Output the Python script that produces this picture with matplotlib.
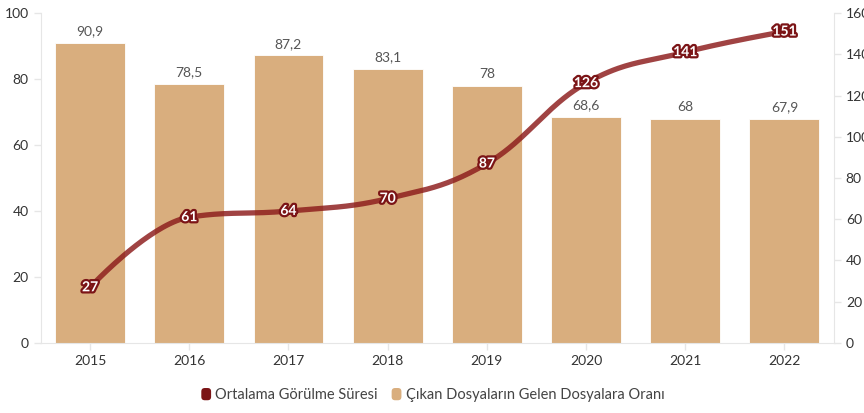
import numpy as np
import matplotlib
matplotlib.use("Agg")
import matplotlib.pyplot as plt
import matplotlib.patheffects as pe
from matplotlib.patches import FancyBboxPatch
from matplotlib.legend_handler import HandlerPatch

plt.rcParams['font.family'] = ['Lato', 'DejaVu Sans']

years = ['2015', '2016', '2017', '2018', '2019', '2020', '2021', '2022']
ratio = [90.9, 78.5, 87.2, 83.1, 78, 68.6, 68, 67.9]
ratio_labels = ['90,9', '78,5', '87,2', '83,1', '78', '68,6', '68', '67,9']
duration = [27, 61, 64, 70, 87, 126, 141, 151]

bar_color = '#d9ae7e'
line_color = '#8b1a1a'
legend_line_color = '#7b1416'
axis_color = '#e6e6e6'
text_color = '#333333'


def spline_path(xs, ys, smoothing=1.5, n=40):
    """Smooth curve through the points using neighbour-based bezier control points."""
    xs = np.asarray(xs, float)
    ys = np.asarray(ys, float)
    m = len(xs)
    left = [None] * m
    right = [None] * m
    for i in range(m):
        if i == 0 or i == m - 1:
            left[i] = (xs[i], ys[i])
            right[i] = (xs[i], ys[i])
            continue
        d = smoothing + 1
        lx = (smoothing * xs[i] + xs[i - 1]) / d
        ly = (smoothing * ys[i] + ys[i - 1]) / d
        rx = (smoothing * xs[i] + xs[i + 1]) / d
        ry = (smoothing * ys[i] + ys[i + 1]) / d
        if rx != lx:
            corr = ((ry - ly) * (rx - xs[i])) / (rx - lx) + ys[i] - ry
            ly += corr
            ry += corr
        if ly > max(ys[i - 1], ys[i]):
            ly = max(ys[i - 1], ys[i]); ry = 2 * ys[i] - ly
        elif ly < min(ys[i - 1], ys[i]):
            ly = min(ys[i - 1], ys[i]); ry = 2 * ys[i] - ly
        if ry > max(ys[i + 1], ys[i]):
            ry = max(ys[i + 1], ys[i]); ly = 2 * ys[i] - ry
        elif ry < min(ys[i + 1], ys[i]):
            ry = min(ys[i + 1], ys[i]); ly = 2 * ys[i] - ry
        left[i] = (lx, ly)
        right[i] = (rx, ry)
    px, py = [], []
    t = np.linspace(0, 1, n)
    for i in range(m - 1):
        p0 = np.array([xs[i], ys[i]])
        p1 = np.array(right[i])
        p2 = np.array(left[i + 1])
        p3 = np.array([xs[i + 1], ys[i + 1]])
        pts = ((1 - t) ** 3)[:, None] * p0 + (3 * (1 - t) ** 2 * t)[:, None] * p1 \
            + (3 * (1 - t) * t ** 2)[:, None] * p2 + (t ** 3)[:, None] * p3
        px.extend(pts[:, 0]); py.extend(pts[:, 1])
    return np.array(px), np.array(py)


fig = plt.figure(figsize=(8.64, 4.13), dpi=100)
ax = fig.add_axes([0.0469, 0.1695, 0.9184, 0.799])
x = np.arange(len(years))

bars = ax.bar(x, ratio, width=0.705, color=bar_color, zorder=2,
              edgecolor='white', linewidth=0.6)
for xi, v, lab in zip(x, ratio, ratio_labels):
    ax.annotate(lab, (xi, v), xytext=(0, 4), textcoords='offset points',
                ha='center', va='bottom', fontsize=10, color='#555555')

ax.set_xlim(-0.5, len(years) - 0.5)
ax.set_ylim(0, 100)
ax.set_yticks(range(0, 101, 20))
ax.set_xticks(x)
ax.set_xticklabels(years)

ax2 = ax.twinx()
ax2.set_ylim(0, 160)
ax2.set_yticks(range(0, 161, 20))

sx, sy = spline_path(x, duration)
ax2.plot(sx, sy, color=line_color, lw=3.8, alpha=0.82, solid_capstyle='round',
         zorder=3)
for xi, v in zip(x, duration):
    ax2.text(xi, v, str(v), ha='center', va='center', fontsize=10,
             fontweight='bold', color='white', zorder=5,
             path_effects=[pe.withStroke(linewidth=3.2, foreground=legend_line_color)])

for a in (ax, ax2):
    for s in a.spines.values():
        s.set_visible(False)
    a.tick_params(colors=axis_color, labelcolor=text_color, labelsize=10,
                  length=5, width=1)
ax.spines['left'].set_visible(True)
ax.spines['left'].set_color(axis_color)
ax.spines['bottom'].set_visible(True)
ax.spines['bottom'].set_color(axis_color)
ax2.spines['right'].set_visible(True)
ax2.spines['right'].set_color(axis_color)
ax.tick_params(axis='x', pad=4)
ax.set_zorder(1)
ax2.set_zorder(2)
ax.patch.set_visible(False)


class RoundedHandler(HandlerPatch):
    def create_artists(self, legend, orig_handle, xdescent, ydescent,
                       width, height, fontsize, trans):
        h = height * 1.2
        w = h * 0.8
        p = FancyBboxPatch((xdescent + width - w, ydescent + (height - h) / 2),
                           w, h, boxstyle='round,pad=0,rounding_size=2.5',
                           facecolor=orig_handle.get_facecolor(),
                           edgecolor='none', transform=trans)
        return [p]


h1 = FancyBboxPatch((0, 0), 1, 1, facecolor=legend_line_color)
h2 = FancyBboxPatch((0, 0), 1, 1, facecolor=bar_color)
fig.legend([h1, h2], ['Ortalama Görülme Süresi',
                      'Çıkan Dosyaların Gelen Dosyalara Oranı'],
           handler_map={FancyBboxPatch: RoundedHandler()},
           loc='center', bbox_to_anchor=(0.5, 0.043), ncol=2, frameon=False,
           fontsize=10.5, handlelength=0.8, handletextpad=0.3,
           columnspacing=0.8, labelcolor='#444444')

fig.savefig('out.png', dpi=100)
